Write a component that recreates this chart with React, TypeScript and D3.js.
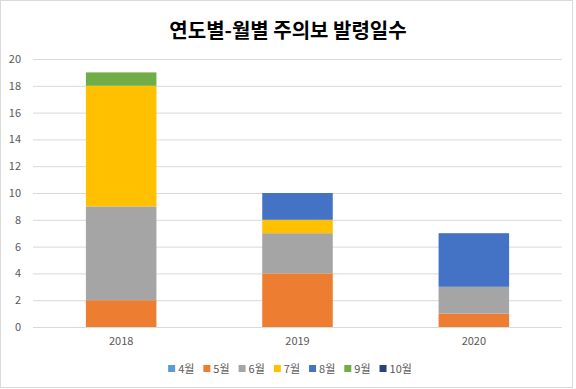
import { useEffect, useRef } from "react";
import * as d3 from "d3";

const years = ["2018", "2019", "2020"];
const months = ["4월", "5월", "6월", "7월", "8월", "9월", "10월"];

// days per month, by year
const apr = [0, 0, 0];
const may = [2, 4, 1];
const jun = [7, 3, 2];
const jul = [9, 1, 0];
const aug = [0, 2, 4];
const sep = [1, 0, 0];
const oct = [0, 0, 0];

const yTicks = [0, 2, 4, 6, 8, 10, 12, 14, 16, 18, 20];
const colors = ["#5B9BD5", "#ED7D31", "#A5A5A5", "#FFC000", "#4472C4", "#70AD47", "#264478"];

const FONT = "'Noto Sans CJK KR', 'Malgun Gothic', sans-serif";

export default function App() {
  const ref = useRef<SVGSVGElement | null>(null);

  useEffect(() => {
    if (!ref.current) return;

    const width = 576;
    const height = 389;
    const margin = { top: 59, right: 14, bottom: 62, left: 33 };

    const svg = d3.select(ref.current);
    svg.selectAll("*").remove();

    svg.append("rect")
      .attr("width", width).attr("height", height).attr("fill", "#fff");
    svg.append("rect")
      .attr("x", 0.5).attr("y", 0.5)
      .attr("width", 572).attr("height", 387)
      .attr("fill", "none").attr("stroke", "#d9d9d9");

    /* ---------------- TITLE ---------------- */

    svg.append("text")
      .attr("x", 288).attr("y", 38)
      .attr("text-anchor", "middle")
      .attr("font-family", FONT)
      .attr("font-size", 20)
      .attr("font-weight", "bold")
      .attr("fill", "#000")
      .text("연도별-월별 주의보 발령일수");

    /* ---------------- SCALES ---------------- */

    const x = d3.scaleBand()
      .domain(years)
      .range([margin.left, width - margin.right])
      .paddingInner(0.6)
      .paddingOuter(0.3);

    const y = d3.scaleLinear()
      .domain([0, 20])
      .range([height - margin.bottom + 0, margin.top]);

    /* ---------------- GRID + AXES ---------------- */

    const gy = svg.append("g")
      .attr("transform", `translate(${margin.left},0)`)
      .call(d3.axisLeft(y)
        .tickValues(yTicks)
        .tickSize(-(width - margin.left - margin.right))
        .tickPadding(12));
    gy.select(".domain").remove();
    gy.selectAll(".tick line").attr("stroke", "#d9d9d9");
    gy.selectAll(".tick text")
      .attr("font-family", FONT).attr("font-size", 11).attr("fill", "#595959");

    const gx = svg.append("g")
      .attr("transform", `translate(0,${height - margin.bottom})`)
      .call(d3.axisBottom(x).tickSize(0).tickPadding(10));
    gx.select(".domain").remove();
    gx.selectAll(".tick text")
      .attr("font-family", FONT).attr("font-size", 11).attr("fill", "#595959");

    /* ---------------- STACKED BARS ---------------- */

    const series = [apr, may, jun, jul, aug, sep, oct];
    const rows = years.map((yr, i) => {
      const r: Record<string, number | string> = { year: yr };
      months.forEach((m, j) => { r[m] = series[j][i]; });
      return r;
    });
    const stacked = d3.stack<Record<string, number | string>>().keys(months)(rows);

    svg.append("g")
      .selectAll("g")
      .data(stacked)
      .join("g")
      .attr("fill", (_, i) => colors[i])
      .selectAll("rect")
      .data(d => d)
      .join("rect")
      .attr("x", d => x(d.data.year as string)!)
      .attr("y", d => y(d[1]))
      .attr("height", d => y(d[0]) - y(d[1]))
      .attr("width", x.bandwidth());

    /* ---------------- LEGEND ---------------- */

    const legend = svg.append("g");
    let cx = 0;
    months.forEach((m, i) => {
      const g = legend.append("g").attr("transform", `translate(${cx},0)`);
      g.append("rect")
        .attr("x", 0).attr("y", -4)
        .attr("width", 7).attr("height", 7)
        .attr("fill", colors[i]);
      const t = g.append("text")
        .attr("x", 10).attr("y", 4)
        .attr("font-family", FONT).attr("font-size", 11).attr("fill", "#595959")
        .text(m);
      const w = (t.node() as SVGTextElement).getComputedTextLength();
      cx += 10 + w + 9;
    });
    const total = cx - 9;
    legend.attr("transform", `translate(${(width - total) / 2 + 2},369)`);
  }, []);

  return (
    <div style={{ position: "fixed", left: 0, top: 0 }}>
      <svg ref={ref} width={576} height={389} style={{ display: "block" }} />
    </div>
  );
}
